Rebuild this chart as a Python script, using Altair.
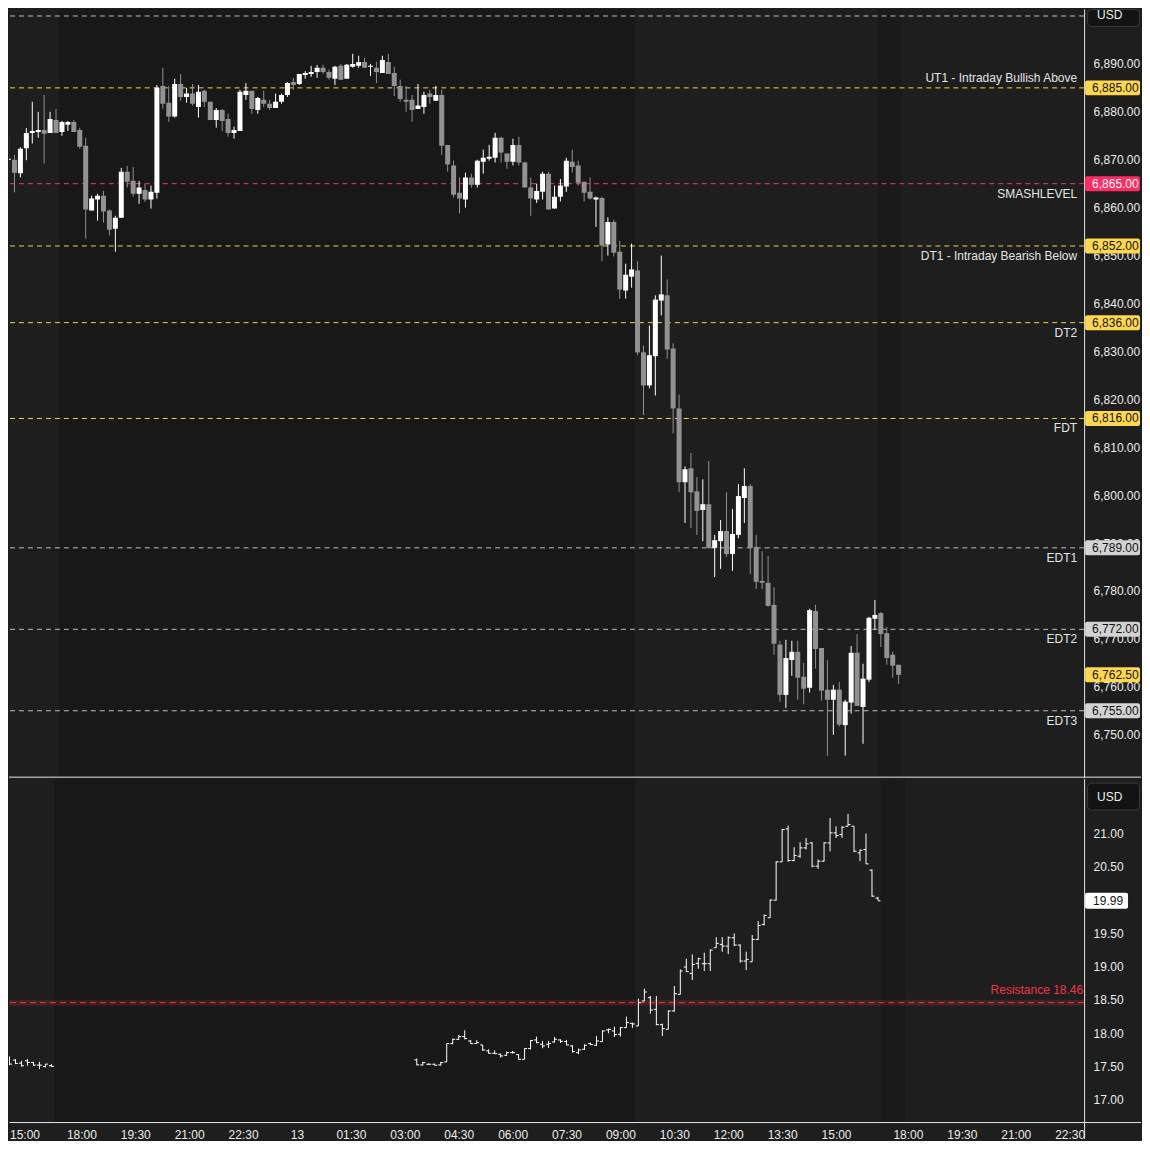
import json
import altair as alt
import pandas as pd

# ---------------- data: 10-minute candles (price panel) ----------------
o_top = [6870.0, 6870.0, 6867.2, 6872.4, 6875.6, 6875.8, 6876.2, 6875.6, 6878.3, 6875.8, 6877.3, 6877.9, 6876.2,
         6872.9, 6859.4, 6861.7, 6862.5, 6859.4, 6855.6, 6857.9, 6867.5, 6865.6, 6862.9, 6863.7, 6861.7, 6863.1,
         6885.4, 6881.9, 6879.0, 6885.8, 6883.1, 6883.8, 6881.0, 6884.4, 6882.1, 6878.3, 6880.4, 6878.5,
         6875.6, 6876.0, 6883.5, 6884.4, 6880.4, 6882.5, 6881.7, 6880.8, 6882.1, 6883.5, 6886.2, 6885.8,
         6887.7, 6887.9, 6888.3, 6889.2, 6888.3, 6886.9, 6889.6, 6886.9, 6889.4, 6889.6, 6890.4, 6889.4,
         6889.2, 6888.1, 6890.4, 6888.1, 6885.4, 6882.5, 6882.5, 6880.6, 6881.0, 6883.8, 6882.3, 6883.5,
         6873.1, 6868.8, 6863.1, 6861.7, 6866.3, 6864.8, 6869.6, 6870.2, 6870.4, 6874.6, 6871.3, 6869.6,
         6873.1, 6869.4, 6864.2, 6861.7, 6863.3, 6867.1, 6859.8, 6862.3, 6864.4, 6869.6, 6868.8, 6865.4, 6863.3, 6861.7,
         6862.0, 6852.3, 6857.0, 6850.8, 6842.7, 6845.6, 6846.9, 6829.8, 6822.9, 6829.0, 6840.6, 6841.7, 6830.6,
         6818.1, 6802.7, 6805.6, 6800.8, 6796.9, 6798.1, 6789.0, 6790.4, 6792.5, 6787.7, 6791.7, 6799.4,
         6801.9, 6789.2, 6782.1, 6781.7, 6777.1, 6768.8, 6758.3, 6765.6, 6767.3, 6762.1, 6759.8, 6775.8, 6768.1,
         6759.4, 6757.3, 6759.4, 6752.0, 6756.7, 6767.1, 6755.8, 6761.5, 6774.2, 6775.4, 6771.2, 6766.7, 6764.6]
h_top = [6874.8, 6871.0, 6872.6, 6876.6, 6882.1, 6880.0, 6883.5, 6880.0, 6880.6, 6878.1, 6878.1, 6878.3, 6876.7,
         6874.6, 6862.5, 6862.9, 6863.5, 6859.6, 6858.3, 6868.3, 6868.7, 6868.5, 6865.6, 6865.0, 6864.6, 6885.6,
         6889.2, 6885.4, 6886.9, 6887.9, 6885.0, 6885.8, 6885.6, 6884.6, 6882.1, 6880.8, 6880.6, 6879.6,
         6876.9, 6884.6, 6886.0, 6884.4, 6883.1, 6884.4, 6882.5, 6883.8, 6883.8, 6886.2, 6887.1, 6887.9,
         6888.5, 6889.6, 6889.8, 6889.8, 6888.8, 6889.6, 6890.0, 6890.0, 6892.1, 6891.7, 6891.3, 6890.0,
         6890.4, 6891.7, 6892.1, 6889.4, 6886.7, 6885.4, 6883.5, 6885.8, 6884.2, 6884.6, 6885.4, 6884.6,
         6873.1, 6869.8, 6866.3, 6867.3, 6867.1, 6870.0, 6872.1, 6873.1, 6875.6, 6874.8, 6871.3, 6874.4,
         6874.8, 6869.6, 6866.3, 6865.0, 6867.5, 6867.5, 6864.6, 6866.0, 6870.4, 6872.1, 6869.8, 6865.4, 6866.3, 6862.3,
         6862.3, 6858.0, 6857.5, 6853.1, 6848.3, 6852.5, 6848.8, 6831.2, 6835.4, 6841.7, 6850.0, 6845.0, 6831.7,
         6821.0, 6806.0, 6808.8, 6803.8, 6803.3, 6807.1, 6791.7, 6794.8, 6800.6, 6797.1, 6802.3, 6805.6,
         6802.3, 6791.7, 6788.3, 6787.3, 6780.8, 6769.6, 6769.8, 6769.6, 6769.6, 6765.0, 6776.3, 6777.1, 6768.1,
         6765.6, 6760.4, 6761.0, 6757.3, 6768.5, 6771.0, 6764.8, 6774.6, 6778.1, 6775.6, 6772.5, 6767.3, 6764.6]
l_top = [6867.2, 6863.2, 6866.3, 6869.9, 6873.4, 6874.6, 6869.2, 6875.6, 6875.6, 6875.0, 6876.0, 6875.8, 6872.3,
         6853.5, 6859.4, 6857.3, 6856.9, 6854.2, 6850.8, 6857.9, 6864.2, 6862.3, 6860.8, 6861.2, 6859.8, 6861.9,
         6880.6, 6877.9, 6878.8, 6882.3, 6881.9, 6881.3, 6878.8, 6881.0, 6878.3, 6876.7, 6876.0, 6874.8,
         6874.4, 6876.0, 6882.5, 6879.6, 6879.6, 6881.0, 6880.4, 6880.8, 6881.7, 6883.1, 6884.6, 6885.6,
         6886.9, 6887.3, 6887.1, 6887.9, 6886.7, 6885.6, 6886.7, 6886.9, 6889.2, 6889.2, 6889.2, 6887.5,
         6886.0, 6888.1, 6887.9, 6883.3, 6882.1, 6880.0, 6877.9, 6880.6, 6879.6, 6881.7, 6882.3, 6871.0,
         6867.5, 6862.1, 6858.8, 6860.0, 6864.2, 6864.2, 6867.1, 6869.8, 6869.4, 6869.4, 6868.1, 6868.8,
         6868.8, 6864.2, 6858.3, 6861.0, 6861.7, 6859.6, 6859.8, 6861.3, 6863.3, 6867.3, 6864.6, 6861.3, 6861.7, 6856.0,
         6848.8, 6850.0, 6849.8, 6841.0, 6841.0, 6843.3, 6829.2, 6816.7, 6822.3, 6820.8, 6837.5, 6828.5, 6812.9,
         6800.6, 6794.2, 6793.1, 6791.7, 6790.4, 6788.8, 6782.9, 6784.6, 6787.1, 6784.2, 6791.0, 6794.2,
         6783.5, 6780.4, 6780.4, 6776.7, 6766.7, 6756.9, 6755.6, 6762.3, 6757.3, 6756.3, 6758.8, 6763.8, 6757.1,
         6745.6, 6750.0, 6751.7, 6745.6, 6754.4, 6756.0, 6748.1, 6761.0, 6771.9, 6768.3, 6764.6, 6761.9, 6760.6]
c_top = [6870.2, 6867.3, 6872.3, 6875.6, 6876.0, 6876.2, 6875.4, 6878.5, 6875.6, 6877.9, 6877.9, 6875.8, 6872.7,
         6859.6, 6861.9, 6862.5, 6859.2, 6855.4, 6857.9, 6867.5, 6865.4, 6862.9, 6864.2, 6861.7, 6863.3, 6885.0,
         6881.7, 6879.0, 6885.8, 6883.1, 6883.8, 6881.7, 6884.2, 6882.1, 6878.3, 6880.4, 6878.1, 6875.6,
         6876.2, 6884.2, 6884.4, 6880.6, 6882.9, 6881.7, 6880.8, 6882.1, 6883.5, 6886.0, 6885.6, 6887.9,
         6888.1, 6888.3, 6889.2, 6888.3, 6887.1, 6889.4, 6886.7, 6889.8, 6890.0, 6890.4, 6889.2, 6889.6,
         6888.3, 6890.8, 6887.9, 6885.4, 6882.7, 6882.1, 6880.4, 6881.3, 6883.5, 6883.1, 6883.5, 6872.9,
         6869.0, 6862.7, 6861.9, 6866.3, 6864.8, 6869.8, 6870.4, 6870.6, 6874.6, 6871.5, 6869.6, 6873.1,
         6869.4, 6864.2, 6861.9, 6863.5, 6867.1, 6859.6, 6862.3, 6864.6, 6869.8, 6868.5, 6865.2, 6863.1, 6861.9, 6862.1,
         6852.1, 6857.0, 6850.6, 6842.9, 6846.0, 6847.1, 6829.8, 6822.9, 6829.2, 6840.8, 6841.9, 6830.4, 6818.1,
         6802.7, 6805.4, 6800.6, 6796.7, 6798.1, 6789.0, 6790.6, 6792.5, 6787.7, 6791.9, 6799.8, 6801.9,
         6789.0, 6781.9, 6781.7, 6776.9, 6769.0, 6758.3, 6766.0, 6767.3, 6761.9, 6759.6, 6776.0, 6767.9, 6759.2,
         6757.3, 6759.4, 6752.1, 6756.9, 6767.1, 6756.0, 6761.7, 6774.4, 6775.0, 6771.0, 6766.0, 6764.4, 6762.5]
k_top = list(range(-13, -13 + len(o_top)))   # bar index, 0 = 18:00

# ---------------- data: lower panel OHLC bars ----------------
vix_k = list(range(-13, -4)) + list(range(56, 134))
vix_o = [17.512, 17.587, 17.597, 17.552, 17.587, 17.562, 17.522, 17.502, 17.512,
         17.60, 17.525, 17.535, 17.535, 17.525, 17.57, 17.845, 17.91, 17.95, 17.885,
         17.845, 17.825, 17.735, 17.70, 17.685, 17.67, 17.71, 17.68, 17.61, 17.77,
         17.90, 17.835, 17.835, 17.87, 17.90, 17.875, 17.81, 17.71, 17.76, 17.845,
         17.82, 17.875, 18.05, 18.035, 17.985, 18.085, 18.15, 18.11, 18.485, 18.535,
         18.36, 18.13, 18.06, 18.335, 18.585, 18.995, 18.90, 19.05, 19.045, 19.045,
         19.285, 19.335, 19.31, 19.435, 19.325, 19.085, 19.075, 19.41, 19.635, 19.735,
         20.00, 20.575, 21.07, 20.595, 20.66, 20.785, 20.86, 20.51, 20.585, 20.86,
         21.01, 20.985, 21.11, 21.11, 20.71, 20.76, 20.45, 20.03]
vix_h = [17.537, 17.652, 17.612, 17.587, 17.612, 17.572, 17.572, 17.537, 17.537,
         17.622, 17.57, 17.55, 17.545, 17.57, 17.845, 17.92, 17.975, 18.045, 17.90,
         17.895, 17.825, 17.76, 17.745, 17.695, 17.725, 17.735, 17.685, 17.775, 17.90,
         17.95, 17.885, 17.885, 17.945, 17.91, 17.90, 17.82, 17.77, 17.835, 17.86,
         17.96, 18.045, 18.07, 18.10, 18.095, 18.25, 18.16, 18.52, 18.67, 18.56,
         18.56, 18.145, 18.345, 18.71, 18.96, 19.12, 19.185, 19.135, 19.21, 19.26,
         19.445, 19.445, 19.455, 19.50, 19.335, 19.225, 19.475, 19.685, 19.785, 20.01,
         20.585, 21.07, 21.12, 20.795, 20.87, 20.935, 20.87, 20.61, 20.87, 21.235,
         21.11, 21.11, 21.295, 21.11, 20.76, 21.0, 20.46, 20.05]
vix_l = [17.427, 17.522, 17.537, 17.502, 17.512, 17.512, 17.462, 17.487, 17.497,
         17.52, 17.515, 17.525, 17.515, 17.515, 17.57, 17.835, 17.90, 17.91, 17.845,
         17.845, 17.735, 17.695, 17.685, 17.635, 17.66, 17.695, 17.605, 17.61, 17.76,
         17.85, 17.775, 17.78, 17.86, 17.855, 17.82, 17.71, 17.685, 17.75, 17.825,
         17.81, 17.875, 18.00, 17.945, 17.95, 18.085, 18.08, 18.11, 18.485, 18.295,
         18.12, 17.96, 18.06, 18.325, 18.585, 18.925, 18.80, 18.97, 18.935, 18.935,
         19.285, 19.225, 19.19, 19.31, 19.06, 18.95, 19.075, 19.40, 19.62, 19.735,
         19.995, 20.575, 20.575, 20.585, 20.635, 20.76, 20.495, 20.47, 20.58, 20.735,
         20.935, 20.935, 21.11, 20.72, 20.585, 20.545, 20.05, 19.995]
vix_c = [17.487, 17.537, 17.547, 17.512, 17.562, 17.522, 17.522, 17.537, 17.502,
         17.525, 17.56, 17.535, 17.52, 17.56, 17.845, 17.91, 17.95, 17.92, 17.845,
         17.86, 17.75, 17.70, 17.695, 17.66, 17.71, 17.71, 17.61, 17.77, 17.89,
         17.86, 17.81, 17.845, 17.91, 17.88, 17.825, 17.725, 17.75, 17.82, 17.83,
         17.885, 18.035, 18.06, 17.98, 18.085, 18.16, 18.14, 18.46, 18.62, 18.35,
         18.13, 18.07, 18.335, 18.595, 18.935, 18.925, 19.035, 19.12, 19.045, 19.25,
         19.35, 19.31, 19.435, 19.325, 19.085, 19.11, 19.41, 19.62, 19.77, 20.00,
         20.575, 21.06, 20.595, 20.67, 20.785, 20.845, 20.51, 20.585, 20.86, 21.01,
         20.97, 21.095, 21.135, 20.735, 20.75, 20.545, 20.06, 19.99]

# ---------------- levels ----------------
level_prices = [6900, 6885, 6865, 6852, 6836, 6816, 6789, 6772, 6755]
level_names = ["", "UT1 - Intraday Bullish Above", "SMASHLEVEL", "DT1 - Intraday Bearish Below",
               "DT2", "FDT", "EDT1", "EDT2", "EDT3"]
level_kinds = ["extended", "target", "smash", "target", "target", "target",
               "extended", "extended", "extended"]
resistance_value = 18.46
resistance_label = "Resistance 18.46"

session_start = [-4.5, 133.5]
session_end = [92.5, 137.5]
session_kind = ["overnight", "break"]

time_ticks = [-12, 0, 9, 18, 27, 36, 45, 54, 63, 72, 81, 90, 99, 108, 117, 126, 138, 147, 156, 165]
time_labels = ["15:00", "18:00", "19:30", "21:00", "22:30", "13", "01:30", "03:00", "04:30", "06:00",
               "07:30", "09:00", "10:30", "12:00", "13:30", "15:00", "18:00", "19:30", "21:00", "22:30"]
price_ticks = list(range(6750, 6891, 10))
vix_ticks = [17.0, 17.5, 18.0, 18.5, 19.0, 19.5, 20.0, 20.5, 21.0]
currency = "USD"

# ---------------- style ----------------
FONT = "Liberation Sans"
BG = "#1e1e1e"
UP, DOWN = "#ffffff", "#929292"
LINE = "#e6e6e6"
AXT = "#ececec"
LBL = "#e4e4e4"
RED = "#f23645"
W, HT, HB = 1077, 770, 344
RX = 1133  # right end of the price-label boxes
XDOM = [-12 - 1 / 12, 167.5 - 1 / 12]
TOP_DOM = [6741.04, 6901.46]
BOT_DOM = [16.667, 21.825]
half_top = 7.5 * (TOP_DOM[1] - TOP_DOM[0]) / HT
half_bot = 8.0 * (BOT_DOM[1] - BOT_DOM[0]) / HB

xs = alt.Scale(domain=XDOM, nice=False, zero=False)
ys_top = alt.Scale(domain=TOP_DOM, nice=False, zero=False)
ys_bot = alt.Scale(domain=BOT_DOM, nice=False, zero=False)

yax_top = alt.Axis(orient="right", values=price_ticks, format=",.2f", title=None, ticks=False,
                   tickSize=0, labelPadding=9, labelColor=AXT, labelFontSize=12, labelFont=FONT,
                   domainColor=LINE, grid=False, labelOverlap=False)
yax_bot = alt.Axis(orient="right", values=vix_ticks, format=".2f", title=None, ticks=False,
                   tickSize=0, labelPadding=9, labelColor=AXT, labelFontSize=12, labelFont=FONT,
                   domainColor=LINE, grid=False, labelOverlap=False)
label_expr = f"{json.dumps(time_labels)}[indexof({json.dumps(time_ticks)}, datum.value)]"
xax_bot = alt.Axis(values=time_ticks, labelExpr=label_expr, labelFlush=1, ticks=False, tickSize=0,
                   labelPadding=12, labelBaseline="middle", labelColor=AXT, labelFontSize=12,
                   labelFont=FONT, title=None, domainColor=LINE, grid=False, labelOverlap=False)

top_df = pd.DataFrame({"k": k_top, "o": o_top, "h": h_top, "l": l_top, "c": c_top})
vix_df = pd.DataFrame({"k": vix_k, "o": vix_o, "h": vix_h, "l": vix_l, "c": vix_c})

lev_df = pd.DataFrame({"price": level_prices, "name": level_names, "kind": level_kinds})
lev_df["line_col"] = lev_df["kind"].map({"extended": "#bdbdbd", "target": "#f6d04a", "smash": "#f0386f"})
lev_df["box_col"] = lev_df["kind"].map({"extended": "#d3d3d3", "target": "#fdd84c", "smash": "#ff2b63"})
lev_df["txt_col"] = lev_df["kind"].map({"extended": "#131313", "target": "#131313", "smash": "#ffffff"})
lev_df["pos"] = ["above" if n.startswith("UT") else "below" for n in level_names]

bands_df = pd.DataFrame({"k0": session_start, "k1": session_end, "kind": session_kind})
bands_df["fill"] = bands_df["kind"].map({"overnight": "#181818", "break": "#1a1a1a"})

one = pd.DataFrame({"t": [currency]})

# ---------------- top panel ----------------
bands_top = alt.Chart(bands_df).mark_rect(clip=True).encode(
    x=alt.X("k0:Q", scale=xs, axis=None), x2="k1:Q",
    y=alt.value(0), y2=alt.value(HT), color=alt.Color("fill:N", scale=None))

lev_rules = alt.Chart(lev_df).mark_rule(strokeDash=[5, 4], strokeWidth=1).encode(
    y=alt.Y("price:Q", scale=ys_top, axis=yax_top), color=alt.Color("line_col:N", scale=None))

lev_above = alt.Chart(lev_df).transform_filter("datum.pos == 'above'").mark_text(
    align="right", baseline="middle", dy=-10, font=FONT, fontSize=12, color=LBL).encode(
    x=alt.value(1070), y=alt.Y("price:Q", scale=ys_top, axis=yax_top), text="name:N")
lev_below = alt.Chart(lev_df).transform_filter("datum.pos == 'below'").mark_text(
    align="right", baseline="middle", dy=10, font=FONT, fontSize=12, color=LBL).encode(
    x=alt.value(1070), y=alt.Y("price:Q", scale=ys_top, axis=yax_top), text="name:N")

candles = alt.Chart(top_df).transform_calculate(col=f"datum.c >= datum.o ? '{UP}' : '{DOWN}'")
wicks = candles.mark_rule(strokeWidth=1, clip=True).encode(
    x=alt.X("k:Q", scale=xs, axis=None), y=alt.Y("l:Q", scale=ys_top, axis=yax_top), y2="h:Q",
    color=alt.Color("col:N", scale=None))
bodies = candles.mark_bar(width=5, clip=True).encode(
    x=alt.X("k:Q", scale=xs, axis=None), y=alt.Y("o:Q", scale=ys_top, axis=yax_top), y2="c:Q",
    color=alt.Color("col:N", scale=None))

boxes = alt.Chart(lev_df).transform_filter("datum.name != ''").transform_calculate(
    hi=f"datum.price + {half_top}", lo=f"datum.price - {half_top}",
    lbl="format(datum.price, ',.2f')")
box_rect = boxes.mark_rect(cornerRadius=2).encode(
    x=alt.value(1078), x2=alt.value(RX), y=alt.Y("hi:Q", scale=ys_top, axis=yax_top), y2="lo:Q",
    color=alt.Color("box_col:N", scale=None))
box_txt = boxes.mark_text(align="left", baseline="middle", font=FONT, fontSize=12).encode(
    x=alt.value(1085), y=alt.Y("price:Q", scale=ys_top, axis=yax_top), text="lbl:N",
    color=alt.Color("txt_col:N", scale=None))

cur = alt.Chart(top_df).transform_window(rn="row_number()", sort=[alt.SortField("k", order="descending")]
    ).transform_filter("datum.rn == 1").transform_calculate(
    hi=f"datum.c + {half_top}", lo=f"datum.c - {half_top}", lbl="format(datum.c, ',.2f')")
cur_rect = cur.mark_rect(cornerRadius=2, color="#fdd84c").encode(
    x=alt.value(1078), x2=alt.value(RX), y=alt.Y("hi:Q", scale=ys_top, axis=yax_top), y2="lo:Q")
cur_txt = cur.mark_text(align="left", baseline="middle", font=FONT, fontSize=12, color="#131313").encode(
    x=alt.value(1085), y=alt.Y("c:Q", scale=ys_top, axis=yax_top), text="lbl:N")

usd_top = alt.Chart(one).mark_rect(cornerRadius=4, fill="#131313", stroke="#3a3a3a", strokeWidth=1).encode(
    x=alt.value(1080.5), x2=alt.value(RX - 0.5), y=alt.value(0.5), y2=alt.value(17.5))
usd_top_t = alt.Chart(one).mark_text(align="left", baseline="middle", font=FONT, fontSize=12, color=AXT).encode(
    x=alt.value(1090), y=alt.value(6), text="t:N")
sep = alt.Chart(one).mark_rule(color=LINE, strokeWidth=1).encode(
    x=alt.value(0), x2=alt.value(RX + 1), y=alt.value(HT - 0.5))

top = alt.layer(bands_top, lev_rules, lev_above, lev_below, wicks, bodies, box_rect, box_txt,
                cur_rect, cur_txt, usd_top, usd_top_t, sep).properties(width=W, height=HT)

# ---------------- bottom panel ----------------
bands_bot = alt.Chart(bands_df).mark_rect(clip=True).encode(
    x=alt.X("k0:Q", scale=xs, axis=xax_bot), x2="k1:Q",
    y=alt.value(0), y2=alt.value(HB), color=alt.Color("fill:N", scale=None))

res = alt.Chart(pd.DataFrame({"v": [resistance_value], "name": [resistance_label]})).transform_calculate(
    hi="datum.v + 0.045", lo="datum.v - 0.045")
res_band = res.mark_rect(color=RED, opacity=0.16).encode(
    x=alt.value(0), x2=alt.value(W), y=alt.Y("hi:Q", scale=ys_bot, axis=yax_bot), y2="lo:Q")
res_rule = res.mark_rule(color=RED, strokeDash=[6, 4], strokeWidth=1).encode(
    y=alt.Y("v:Q", scale=ys_bot, axis=yax_bot))
res_txt = res.mark_text(align="right", baseline="middle", dy=-13, font=FONT, fontSize=12, color=RED).encode(
    x=alt.value(1076), y=alt.Y("v:Q", scale=ys_bot, axis=yax_bot), text="name:N")

vbase = alt.Chart(vix_df)
v_hl = vbase.mark_rule(color="#ffffff", strokeWidth=1, clip=True).encode(
    x=alt.X("k:Q", scale=xs, axis=xax_bot), y=alt.Y("l:Q", scale=ys_bot, axis=yax_bot), y2="h:Q")
v_open = vbase.mark_rule(color="#ffffff", strokeWidth=1, xOffset=-2.5, x2Offset=0, clip=True).encode(
    x=alt.X("k:Q", scale=xs, axis=xax_bot), x2="k:Q", y=alt.Y("o:Q", scale=ys_bot, axis=yax_bot))
v_close = vbase.mark_rule(color="#ffffff", strokeWidth=1, xOffset=0, x2Offset=2.5, clip=True).encode(
    x=alt.X("k:Q", scale=xs, axis=xax_bot), x2="k:Q", y=alt.Y("c:Q", scale=ys_bot, axis=yax_bot))

vcur = vbase.transform_window(rn="row_number()", sort=[alt.SortField("k", order="descending")]
    ).transform_filter("datum.rn == 1").transform_calculate(
    hi=f"datum.c + {half_bot}", lo=f"datum.c - {half_bot}", lbl="format(datum.c, '.2f')")
vcur_rect = vcur.mark_rect(cornerRadius=2, color="#ffffff").encode(
    x=alt.value(1078), x2=alt.value(1121), y=alt.Y("hi:Q", scale=ys_bot, axis=yax_bot), y2="lo:Q")
vcur_txt = vcur.mark_text(align="left", baseline="middle", font=FONT, fontSize=12, color="#131313").encode(
    x=alt.value(1086), y=alt.Y("c:Q", scale=ys_bot, axis=yax_bot), text="lbl:N")

usd_bot = alt.Chart(one).mark_rect(cornerRadius=4, fill="#131313", stroke="#3a3a3a", strokeWidth=1).encode(
    x=alt.value(1080.5), x2=alt.value(RX - 0.5), y=alt.value(4.5), y2=alt.value(31.5))
usd_bot_t = alt.Chart(one).mark_text(align="left", baseline="middle", font=FONT, fontSize=12, color=AXT).encode(
    x=alt.value(1090), y=alt.value(18), text="t:N")
bot_ext = alt.Chart(one).mark_rule(color=LINE, strokeWidth=1).encode(
    x=alt.value(W), x2=alt.value(RX + 1), y=alt.value(HB + 0.5))
vert_ext = alt.Chart(one).mark_rule(color=LINE, strokeWidth=1).encode(
    x=alt.value(W + 0.5), y=alt.value(HB), y2=alt.value(HB + 17))

bottom = alt.layer(bands_bot, res_band, res_rule, res_txt, v_hl, v_open, v_close,
                   vcur_rect, vcur_txt, usd_bot, usd_bot_t, bot_ext, vert_ext).properties(width=W, height=HB)

chart = alt.vconcat(top, bottom, spacing=1).properties(
    background=BG, padding=0).configure_view(strokeWidth=0).configure_axis(grid=False)

chart.save("out.html", embed_options={"renderer": "svg", "actions": False})
